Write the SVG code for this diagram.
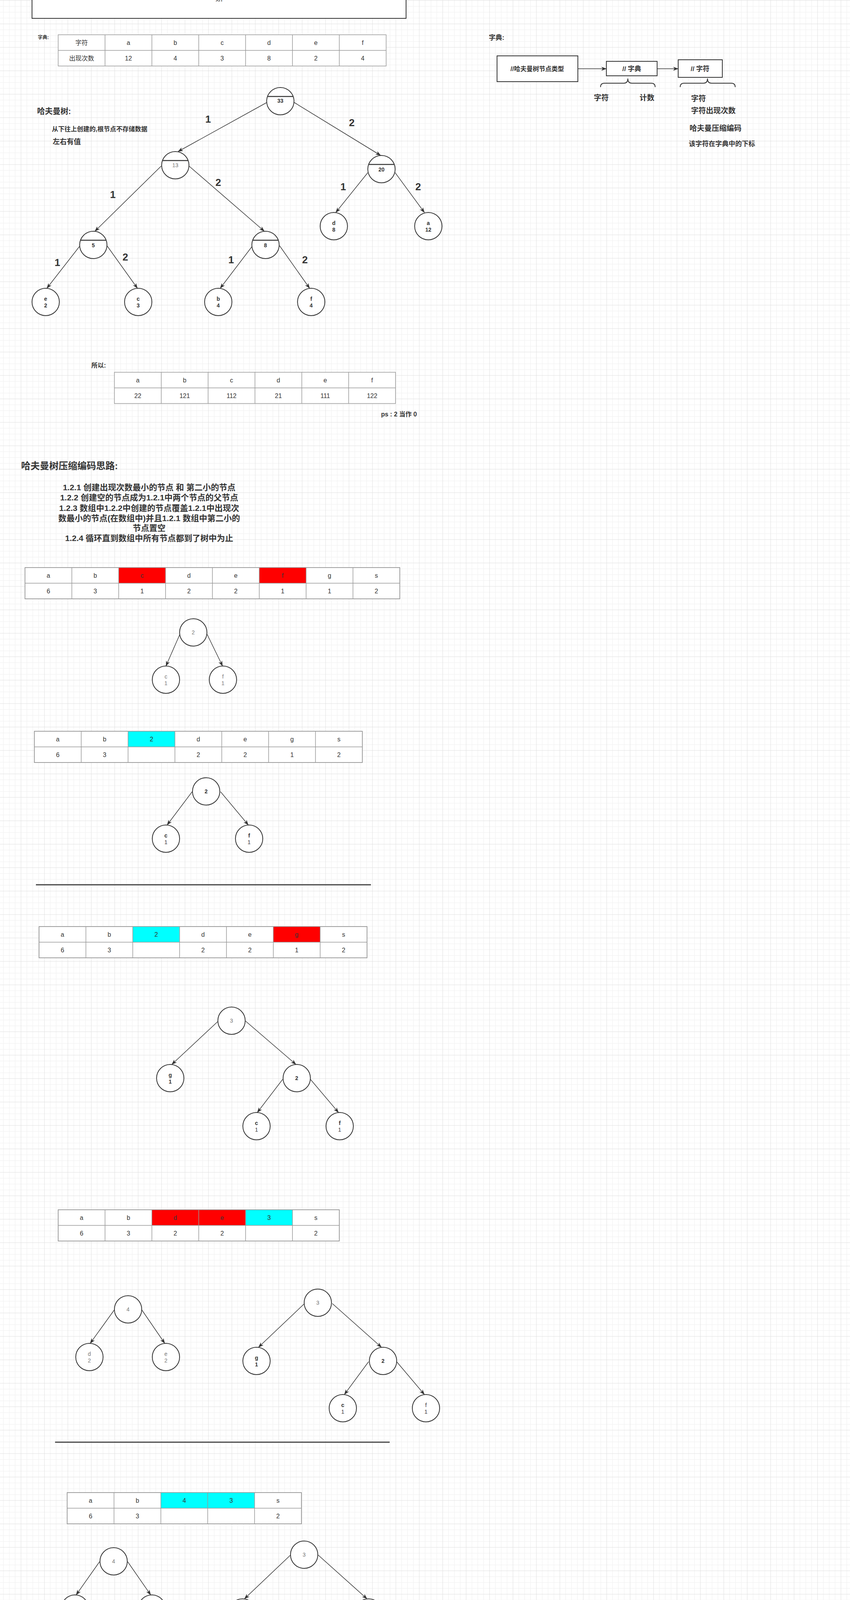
<svg xmlns="http://www.w3.org/2000/svg" width="2177" height="4782" viewBox="0 0 2177 4782">
<style>
.f{font-family:"Liberation Sans","Noto Sans CJK SC",sans-serif}
.cell{fill:#fff;stroke:#999;stroke-width:1.5}
.gl{stroke:#999;stroke-width:1.5;fill:none}
.red{fill:#f00}
.cyan{fill:#0ff}
.ct{font-family:"Liberation Sans","Noto Sans CJK SC",sans-serif;font-size:16px;fill:#333;text-anchor:middle}
.node{fill:#fff;stroke:#333;stroke-width:2}
.dv{stroke:#333;stroke-width:2.5}
.edge{stroke:#333;stroke-width:1.5;fill:none;marker-end:url(#arr)}
.lbl{font-family:"Liberation Sans",sans-serif;font-size:26px;font-weight:bold;fill:#333;text-anchor:middle}
.nb{font-family:"Liberation Sans",sans-serif;font-size:14px;font-weight:bold;fill:#333;text-anchor:middle}
.ng{font-family:"Liberation Sans",sans-serif;font-size:14px;fill:#777;text-anchor:middle}
.nn{font-family:"Liberation Sans",sans-serif;font-size:14px;fill:#333;text-anchor:middle}
.bt{font-family:"Liberation Sans","Noto Sans CJK SC",sans-serif;font-weight:bold;fill:#333}
.box{fill:#fff;stroke:#333;stroke-width:2}
.sep{stroke:#444;stroke-width:3}
</style>
<defs>
<pattern id="grid" patternUnits="userSpaceOnUse" x="53.33" y="0.67" width="60" height="60">
<rect width="60" height="60" fill="#fff"/>
<rect x="15" width="1" height="60" fill="#efefef"/><rect x="30" width="1" height="60" fill="#efefef"/><rect x="45" width="1" height="60" fill="#efefef"/>
<rect y="15" width="60" height="1" fill="#efefef"/><rect y="30" width="60" height="1" fill="#efefef"/><rect y="45" width="60" height="1" fill="#efefef"/>
<rect x="0" width="1" height="60" fill="#e0e0e0"/><rect y="0" width="60" height="1" fill="#e0e0e0"/>
</pattern>
<marker id="arr" markerUnits="userSpaceOnUse" viewBox="0 0 14 10" refX="13" refY="5" markerWidth="14" markerHeight="10" orient="auto">
<path d="M0,0 L14,5 L0,10 L4,5 Z" fill="#333"/>
</marker>
<linearGradient id="sh" x1="0" y1="0" x2="0" y2="1">
<stop offset="0" stop-color="#8f8f8f"/>
<stop offset="1" stop-color="#d9dadd"/>
</linearGradient>
</defs>

<rect x="0" y="0" width="2177" height="4590" fill="url(#grid)"/>

<!-- top box -->
<g id="topbox">
<rect class="box" x="82" y="-10" width="958" height="57"/>
<text class="f" x="561" y="4" font-size="16" fill="#333" text-anchor="middle">xn</text>
</g>

<!-- dictionary table -->
<g id="dict-table">
<text class="bt" x="97" y="100" font-size="12">字典:</text>
<rect class="cell" x="149" y="89" width="840" height="80"/>
<path class="gl" d="M269,89V169M389,89V169M509,89V169M629,89V169M749,89V169M869,89V169M149,129H989"/>
<text class="ct" x="209" y="115">字符</text><text class="ct" x="329" y="115">a</text><text class="ct" x="449" y="115">b</text><text class="ct" x="569" y="115">c</text><text class="ct" x="689" y="115">d</text><text class="ct" x="809" y="115">e</text><text class="ct" x="929" y="115">f</text>
<text class="ct" x="209" y="155">出现次数</text><text class="ct" x="329" y="155">12</text><text class="ct" x="449" y="155">4</text><text class="ct" x="569" y="155">3</text><text class="ct" x="689" y="155">8</text><text class="ct" x="809" y="155">2</text><text class="ct" x="929" y="155">4</text>
</g>

<!-- left notes -->
<g id="notes1">
<text class="bt" x="95" y="292" font-size="20">哈夫曼树:</text>
<text class="bt" x="133" y="336" font-size="16">从下往上创建的,根节点不存储数据</text>
<text class="bt" x="135" y="369" font-size="18">左右有值</text>
</g>

<!-- right side dictionary structure -->
<g id="struct-title"><text class="bt" x="1252" y="102" font-size="17">字典:</text></g>
<g id="box-node"><rect class="box" x="1273" y="143" width="207" height="66"/><text class="bt" x="1376" y="182" font-size="16" text-anchor="middle">//哈夫曼树节点类型</text></g>
<g id="box-dict"><rect class="box" x="1553" y="157" width="130" height="37"/><text class="bt" x="1618" y="182" font-size="17" text-anchor="middle">// 字典</text></g>
<g id="box-char"><rect class="box" x="1737" y="153" width="113" height="45"/><text class="bt" x="1793" y="182" font-size="17" text-anchor="middle">// 字符</text></g>
<g id="braces" fill="none" stroke="#333" stroke-width="2">
<path d="M1538,223 Q1538,213 1548,213 L1598,213 Q1608,213 1608,201 Q1608,213 1618,213 L1668,213 Q1678,213 1678,223"/>
<path d="M1742,223 Q1742,213 1752,213 L1802,213 Q1812,213 1812,201 Q1812,213 1822,213 L1873,213 Q1883,213 1883,223"/>
</g>
<g id="struct-notes">
<text class="bt" x="1521" y="257" font-size="19">字符</text>
<text class="bt" x="1638" y="257" font-size="19">计数</text>
<text class="bt" x="1770" y="259" font-size="19">字符</text>
<text class="bt" x="1770" y="290" font-size="19">字符出现次数</text>
<text class="bt" x="1766" y="335" font-size="19">哈夫曼压缩编码</text>
<text class="bt" x="1764" y="374" font-size="17">该字符在字典中的下标</text>
</g>

<!-- connectors -->
<g id="connectors">
<path class="edge" d="M1480,176H1553"/>
<path class="edge" d="M1683,176H1737"/>
<path class="edge" d="M684,262L456,388"/>
<path class="edge" d="M753,262L975,398"/>
<path class="edge" d="M413,425L243,592"/>
<path class="edge" d="M484,425L677,592"/>
<path class="edge" d="M942,442L860,544"/>
<path class="edge" d="M1012,442L1087,544"/>
<path class="edge" d="M205,629L120,738"/>
<path class="edge" d="M274,629L352,738"/>
<path class="edge" d="M647,629L564,738"/>
<path class="edge" d="M716,629L793,738"/>
<path class="edge" d="M461,1623L425,1705"/>
<path class="edge" d="M530,1623L570,1705"/>
<path class="edge" d="M492,2027L428,2112"/>
<path class="edge" d="M565,2027L636,2112"/>
<path class="edge" d="M559,2614L440,2725"/>
<path class="edge" d="M629,2614L758,2725"/>
<path class="edge" d="M724,2763L659,2848"/>
<path class="edge" d="M795,2763L867,2848"/>
<path class="edge" d="M293,3353L231,3439"/>
<path class="edge" d="M363,3353L422,3439"/>
<path class="edge" d="M780,3337L662,3449"/>
<path class="edge" d="M851,3337L977,3449"/>
<path class="edge" d="M944,3486L882,3570"/>
<path class="edge" d="M1016,3486L1087,3570"/>
<path class="edge" d="M255,3998L195,4083"/>
<path class="edge" d="M327,3998L386,4083"/>
<path class="edge" d="M744,3981L626,4093"/>
<path class="edge" d="M815,3981L940,4093"/>
<path class="edge" d="M908,4130L846,4215"/>
<path class="edge" d="M981,4130L1051,4215"/>
</g>

<!-- edge labels -->
<g id="edge-labels">
<text class="lbl" x="533" y="314">1</text>
<text class="lbl" x="901" y="323">2</text>
<text class="lbl" x="289" y="507">1</text>
<text class="lbl" x="559" y="476">2</text>
<text class="lbl" x="879" y="487">1</text>
<text class="lbl" x="1071" y="487">2</text>
<text class="lbl" x="147" y="681">1</text>
<text class="lbl" x="321" y="667">2</text>
<text class="lbl" x="592" y="674">1</text>
<text class="lbl" x="781" y="674">2</text>
</g>

<!-- main huffman tree -->
<g id="n33"><circle class="node" cx="718" cy="259" r="35"/><line class="dv" x1="685" y1="247" x2="751" y2="247"/><text class="nb" x="718" y="263" font-size="11">33</text></g>
<g id="n13"><circle class="node" cx="449" cy="423" r="35"/><line class="dv" x1="416" y1="411" x2="482" y2="411"/><text class="ng" x="449" y="428" font-size="12">13</text></g>
<g id="n20"><circle class="node" cx="977" cy="433" r="35"/><line class="dv" x1="944" y1="421" x2="1010" y2="421"/><text class="nb" x="977" y="439" font-size="15">20</text></g>
<g id="n5"><circle class="node" cx="239" cy="627" r="35"/><line class="dv" x1="206" y1="615" x2="272" y2="615"/><text class="nb" x="239" y="633" font-size="15">5</text></g>
<g id="n8"><circle class="node" cx="680" cy="627" r="35"/><line class="dv" x1="647" y1="615" x2="713" y2="615"/><text class="nb" x="680" y="633" font-size="15">8</text></g>
<g id="nd"><circle class="node" cx="855" cy="579" r="35"/><text class="nb" x="855" y="576">d</text><text class="nb" x="855" y="593">8</text></g>
<g id="na"><circle class="node" cx="1097" cy="579" r="35"/><text class="nb" x="1097" y="576">a</text><text class="nb" x="1097" y="593">12</text></g>
<g id="ne"><circle class="node" cx="117" cy="773" r="35"/><text class="nb" x="117" y="770">e</text><text class="nb" x="117" y="787">2</text></g>
<g id="nc"><circle class="node" cx="354" cy="773" r="35"/><text class="nb" x="354" y="770">c</text><text class="nb" x="354" y="787">3</text></g>
<g id="nb"><circle class="node" cx="559" cy="773" r="35"/><text class="nb" x="559" y="770">b</text><text class="nb" x="559" y="787">4</text></g>
<g id="nf"><circle class="node" cx="797" cy="773" r="35"/><text class="nb" x="797" y="770">f</text><text class="nb" x="797" y="787">4</text></g>

<!-- codes table -->
<g id="codes-table">
<text class="bt" x="234" y="941" font-size="16">所以:</text>
<rect class="cell" x="293" y="953" width="720" height="80"/>
<path class="gl" d="M413,953V1033M533,953V1033M653,953V1033M773,953V1033M893,953V1033M293,993H1013"/>
<text class="ct" x="353" y="979">a</text><text class="ct" x="473" y="979">b</text><text class="ct" x="593" y="979">c</text><text class="ct" x="713" y="979">d</text><text class="ct" x="833" y="979">e</text><text class="ct" x="953" y="979">f</text>
<text class="ct" x="353" y="1019">22</text><text class="ct" x="473" y="1019">121</text><text class="ct" x="593" y="1019">112</text><text class="ct" x="713" y="1019">21</text><text class="ct" x="833" y="1019">111</text><text class="ct" x="953" y="1019">122</text>
<text class="bt" x="976" y="1066" font-size="16">ps : 2 当作 0</text>
</g>

<!-- algorithm -->
<g id="algo">
<text class="bt" x="54" y="1201" font-size="24">哈夫曼树压缩编码思路:</text>
<g class="bt" font-size="21" text-anchor="middle">
<text x="382" y="1255">1.2.1 创建出现次数最小的节点 和 第二小的节点</text>
<text x="382" y="1281">1.2.2 创建空的节点成为1.2.1中两个节点的父节点</text>
<text x="382" y="1308">1.2.3 数组中1.2.2中创建的节点覆盖1.2.1中出现次</text>
<text x="382" y="1334">数最小的节点(在数组中)并且1.2.1 数组中第二小的</text>
<text x="382" y="1359">节点置空</text>
<text x="382" y="1385">1.2.4 循环直到数组中所有节点都到了树中为止</text>
</g>
</g>

<!-- stage 1 -->
<g id="stage1-table">
<rect class="cell" x="64" y="1453" width="960" height="80"/>
<rect class="red" x="304" y="1453" width="120" height="40"/>
<rect class="red" x="664" y="1453" width="120" height="40"/>
<path class="gl" d="M64,1453H1024V1533H64ZM184,1453V1533M304,1453V1533M424,1453V1533M544,1453V1533M664,1453V1533M784,1453V1533M904,1453V1533M64,1493H1024"/>
<text class="ct" x="124" y="1479">a</text><text class="ct" x="244" y="1479">b</text><text class="ct" x="364" y="1479">c</text><text class="ct" x="484" y="1479">d</text><text class="ct" x="604" y="1479">e</text><text class="ct" x="724" y="1479">f</text><text class="ct" x="844" y="1479">g</text><text class="ct" x="964" y="1479">s</text>
<text class="ct" x="124" y="1519">6</text><text class="ct" x="244" y="1519">3</text><text class="ct" x="364" y="1519">1</text><text class="ct" x="484" y="1519">2</text><text class="ct" x="604" y="1519">2</text><text class="ct" x="724" y="1519">1</text><text class="ct" x="844" y="1519">1</text><text class="ct" x="964" y="1519">2</text>
</g>
<g id="s1-root"><circle class="node" cx="495" cy="1619" r="35"/><text class="ng" x="495" y="1624">2</text></g>
<g id="s1-c"><circle class="node" cx="425" cy="1740" r="35"/><text class="ng" x="425" y="1737">c</text><text class="ng" x="425" y="1754">1</text></g>
<g id="s1-f"><circle class="node" cx="571" cy="1740" r="35"/><text class="ng" x="571" y="1737">f</text><text class="ng" x="571" y="1754">1</text></g>

<!-- stage 2 -->
<g id="stage2-table">
<rect class="cell" x="88" y="1872" width="840" height="80"/>
<rect class="cyan" x="328" y="1872" width="120" height="40"/>
<path class="gl" d="M88,1872H928V1952H88ZM208,1872V1952M328,1872V1952M448,1872V1952M568,1872V1952M688,1872V1952M808,1872V1952M88,1912H928"/>
<text class="ct" x="148" y="1898">a</text><text class="ct" x="268" y="1898">b</text><text class="ct" x="388" y="1898">2</text><text class="ct" x="508" y="1898">d</text><text class="ct" x="628" y="1898">e</text><text class="ct" x="748" y="1898">g</text><text class="ct" x="868" y="1898">s</text>
<text class="ct" x="148" y="1938">6</text><text class="ct" x="268" y="1938">3</text><text class="ct" x="508" y="1938">2</text><text class="ct" x="628" y="1938">2</text><text class="ct" x="748" y="1938">1</text><text class="ct" x="868" y="1938">2</text>
</g>
<g id="s2-root"><circle class="node" cx="528" cy="2026" r="35"/><text class="nb" x="528" y="2031">2</text></g>
<g id="s2-c"><circle class="node" cx="425" cy="2147" r="35"/><text class="nb" x="425" y="2144">c</text><text class="nn" x="425" y="2161">1</text></g>
<g id="s2-f"><circle class="node" cx="638" cy="2147" r="35"/><text class="nb" x="638" y="2144">f</text><text class="nn" x="638" y="2161">1</text></g>
<g id="sep1"><line class="sep" x1="92" y1="2265" x2="950" y2="2265"/></g>

<!-- stage 3 -->
<g id="stage3-table">
<rect class="cell" x="100" y="2372" width="840" height="80"/>
<rect class="cyan" x="340" y="2372" width="120" height="40"/>
<rect class="red" x="700" y="2372" width="120" height="40"/>
<path class="gl" d="M100,2372H940V2452H100ZM220,2372V2452M340,2372V2452M460,2372V2452M580,2372V2452M700,2372V2452M820,2372V2452M100,2412H940"/>
<text class="ct" x="160" y="2398">a</text><text class="ct" x="280" y="2398">b</text><text class="ct" x="400" y="2398">2</text><text class="ct" x="520" y="2398">d</text><text class="ct" x="640" y="2398">e</text><text class="ct" x="760" y="2398">g</text><text class="ct" x="880" y="2398">s</text>
<text class="ct" x="160" y="2438">6</text><text class="ct" x="280" y="2438">3</text><text class="ct" x="520" y="2438">2</text><text class="ct" x="640" y="2438">2</text><text class="ct" x="760" y="2438">1</text><text class="ct" x="880" y="2438">2</text>
</g>
<g id="s3-root"><circle class="node" cx="593" cy="2613" r="35"/><text class="ng" x="593" y="2618">3</text></g>
<g id="s3-g"><circle class="node" cx="436" cy="2760" r="35"/><text class="nb" x="436" y="2757">g</text><text class="nb" x="436" y="2774">1</text></g>
<g id="s3-2"><circle class="node" cx="760" cy="2760" r="35"/><text class="nb" x="760" y="2765">2</text></g>
<g id="s3-c"><circle class="node" cx="657" cy="2883" r="35"/><text class="nb" x="657" y="2880">c</text><text class="nn" x="657" y="2897">1</text></g>
<g id="s3-f"><circle class="node" cx="870" cy="2883" r="35"/><text class="nb" x="870" y="2880">f</text><text class="nn" x="870" y="2897">1</text></g>

<!-- stage 4 -->
<g id="stage4-table">
<rect class="cell" x="149" y="3097" width="720" height="80"/>
<rect class="red" x="389" y="3097" width="240" height="40"/>
<rect class="cyan" x="629" y="3097" width="120" height="40"/>
<path class="gl" d="M149,3097H869V3177H149ZM269,3097V3177M389,3097V3177M509,3097V3177M629,3097V3177M749,3097V3177M149,3137H869"/>
<text class="ct" x="209" y="3123">a</text><text class="ct" x="329" y="3123">b</text><text class="ct" x="449" y="3123">d</text><text class="ct" x="569" y="3123">e</text><text class="ct" x="689" y="3123">3</text><text class="ct" x="809" y="3123">s</text>
<text class="ct" x="209" y="3163">6</text><text class="ct" x="329" y="3163">3</text><text class="ct" x="449" y="3163">2</text><text class="ct" x="569" y="3163">2</text><text class="ct" x="809" y="3163">2</text>
</g>
<g id="s4-4"><circle class="node" cx="328" cy="3352" r="35"/><text class="ng" x="328" y="3357">4</text></g>
<g id="s4-d"><circle class="node" cx="229" cy="3474" r="35"/><text class="ng" x="229" y="3471">d</text><text class="ng" x="229" y="3488">2</text></g>
<g id="s4-e"><circle class="node" cx="425" cy="3474" r="35"/><text class="ng" x="425" y="3471">e</text><text class="ng" x="425" y="3488">2</text></g>
<g id="s4-3"><circle class="node" cx="814" cy="3335" r="35"/><text class="ng" x="814" y="3340">3</text></g>
<g id="s4-g"><circle class="node" cx="657" cy="3484" r="35"/><text class="nb" x="657" y="3481">g</text><text class="nb" x="657" y="3498">1</text></g>
<g id="s4-2"><circle class="node" cx="981" cy="3484" r="35"/><text class="nb" x="981" y="3489">2</text></g>
<g id="s4-c"><circle class="node" cx="878" cy="3605" r="35"/><text class="nb" x="878" y="3602">c</text><text class="nn" x="878" y="3619">1</text></g>
<g id="s4-f"><circle class="node" cx="1091" cy="3605" r="35"/><text class="nn" x="1091" y="3602">f</text><text class="nn" x="1091" y="3619">1</text></g>
<g id="sep2"><line class="sep" x1="141" y1="3692" x2="998" y2="3692"/></g>

<!-- stage 5 -->
<g id="stage5-table">
<rect class="cell" x="172" y="3821" width="600" height="80"/>
<rect class="cyan" x="412" y="3821" width="240" height="40"/>
<path class="gl" d="M172,3821H772V3901H172ZM292,3821V3901M412,3821V3901M532,3821V3901M652,3821V3901M172,3861H772"/>
<text class="ct" x="232" y="3847">a</text><text class="ct" x="352" y="3847">b</text><text class="ct" x="472" y="3847">4</text><text class="ct" x="592" y="3847">3</text><text class="ct" x="712" y="3847">s</text>
<text class="ct" x="232" y="3887">6</text><text class="ct" x="352" y="3887">3</text><text class="ct" x="712" y="3887">2</text>
</g>
<g id="s5-4"><circle class="node" cx="291" cy="3997" r="35"/><text class="ng" x="291" y="4002">4</text></g>
<g id="s5-d"><circle class="node" cx="192" cy="4118" r="35"/><text class="ng" x="192" y="4115">d</text><text class="ng" x="192" y="4132">2</text></g>
<g id="s5-e"><circle class="node" cx="389" cy="4118" r="35"/><text class="ng" x="389" y="4115">e</text><text class="ng" x="389" y="4132">2</text></g>
<g id="s5-3"><circle class="node" cx="779" cy="3980" r="35"/><text class="ng" x="779" y="3985">3</text></g>
<g id="s5-g"><circle class="node" cx="621" cy="4128" r="35"/><text class="nb" x="621" y="4125">g</text><text class="nn" x="621" y="4142">1</text></g>
<g id="s5-2"><circle class="node" cx="944" cy="4128" r="35"/><text class="nb" x="944" y="4133">2</text></g>
<g id="s5-c"><circle class="node" cx="842" cy="4250" r="35"/><text class="nb" x="842" y="4247">c</text><text class="nb" x="842" y="4264">1</text></g>
<g id="s5-f"><circle class="node" cx="1054" cy="4250" r="35"/><text class="nn" x="1054" y="4247">f</text><text class="nn" x="1054" y="4264">1</text></g>
<g id="sep3"><line class="sep" x1="136" y1="4377" x2="993" y2="4377"/></g>

<g id="yici"><text class="bt" x="378" y="4471" font-size="22">依次</text></g>

<!-- bottom chrome -->
<g id="chrome">
<rect x="0" y="4590" width="2177" height="20" fill="#f1f1f1"/>
<rect x="0" y="4610" width="2177" height="148" fill="#d9dadd"/>
<rect x="0" y="4610" width="2177" height="10" fill="url(#sh)"/>
<rect x="0" y="4758" width="2177" height="10" fill="#fff"/>
<rect x="357" y="4759" width="1216" height="9" rx="4.5" fill="#c8c8c8"/>
<line x1="0" y1="4768.5" x2="2177" y2="4768.5" stroke="#a9a9a9" stroke-width="1"/>
<rect x="0" y="4769" width="2177" height="13" fill="#f1f1f1"/>
<line x1="2060.5" y1="4770" x2="2060.5" y2="4782" stroke="#aaa" stroke-width="1"/>
<rect x="2156" y="4770" width="21" height="12" fill="#666"/>
</g>
</svg>
